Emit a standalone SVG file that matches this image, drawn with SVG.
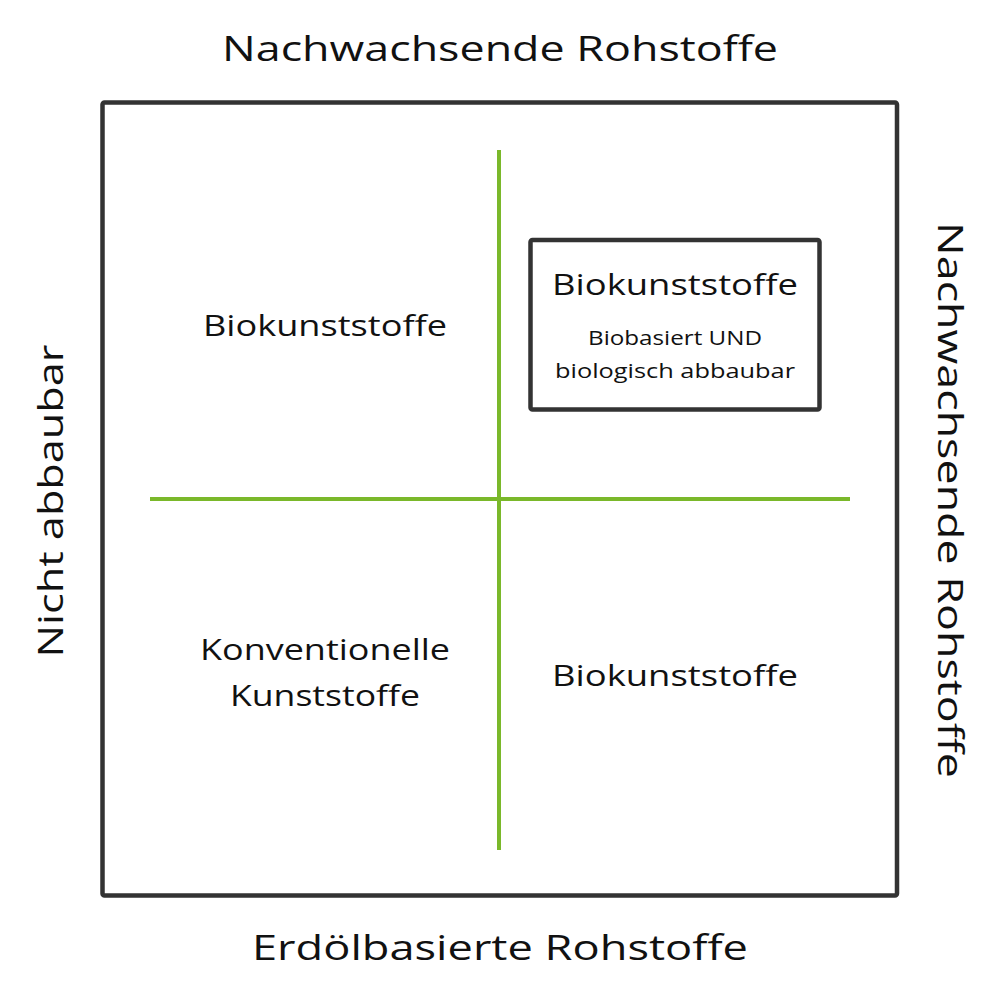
<svg xmlns="http://www.w3.org/2000/svg" width="1000" height="1000" viewBox="0 0 1000 1000">
<style>
.t{font-family:"Open Sans","Liberation Sans",sans-serif;fill:#111;text-anchor:middle}
.big{font-size:34px}
.mid{font-size:30px}
.sm{font-size:20px}
.frame{fill:none;stroke:#333;stroke-width:4.5;stroke-linejoin:round}
.axis{stroke:#7ab82a;stroke-width:4;fill:none}
</style>
<rect width="1000" height="1000" fill="#fff"/>
<g id="frame"><rect class="frame" x="102.5" y="102.5" width="794.5" height="793" rx="2"/></g>
<g id="connectors">
<line class="axis" x1="499" y1="150" x2="499" y2="850"/>
<line class="axis" x1="150" y1="499" x2="850" y2="499"/>
</g>
<g id="label-top"><text class="t big" x="500" y="61" textLength="556" lengthAdjust="spacingAndGlyphs">Nachwachsende Rohstoffe</text></g>
<g id="label-bottom"><text class="t big" x="500" y="960" textLength="496" lengthAdjust="spacingAndGlyphs">Erdölbasierte Rohstoffe</text></g>
<g id="label-left"><text class="t big" transform="translate(63,501) rotate(-90)" x="0" y="0" textLength="313" lengthAdjust="spacingAndGlyphs">Nicht abbaubar</text></g>
<g id="label-right"><text class="t big" transform="translate(938,500) rotate(90)" x="0" y="0" textLength="556" lengthAdjust="spacingAndGlyphs">Nachwachsende Rohstoffe</text></g>
<g id="q-top-left"><text class="t mid" x="325" y="336" textLength="244" lengthAdjust="spacingAndGlyphs">Biokunststoffe</text></g>
<g id="q-top-right">
<rect class="frame" x="530.5" y="240" width="289" height="169.5" rx="2"/>
<text class="t mid" x="675" y="295" textLength="246" lengthAdjust="spacingAndGlyphs">Biokunststoffe</text>
<text class="t sm" x="675" y="345" textLength="174" lengthAdjust="spacingAndGlyphs">Biobasiert UND</text>
<text class="t sm" x="675" y="378" textLength="240" lengthAdjust="spacingAndGlyphs">biologisch abbaubar</text>
</g>
<g id="q-bottom-left">
<text class="t mid" x="325" y="660" textLength="250" lengthAdjust="spacingAndGlyphs">Konventionelle</text>
<text class="t mid" x="325" y="706" textLength="190" lengthAdjust="spacingAndGlyphs">Kunststoffe</text>
</g>
<g id="q-bottom-right"><text class="t mid" x="675" y="686" textLength="246" lengthAdjust="spacingAndGlyphs">Biokunststoffe</text></g>
</svg>
